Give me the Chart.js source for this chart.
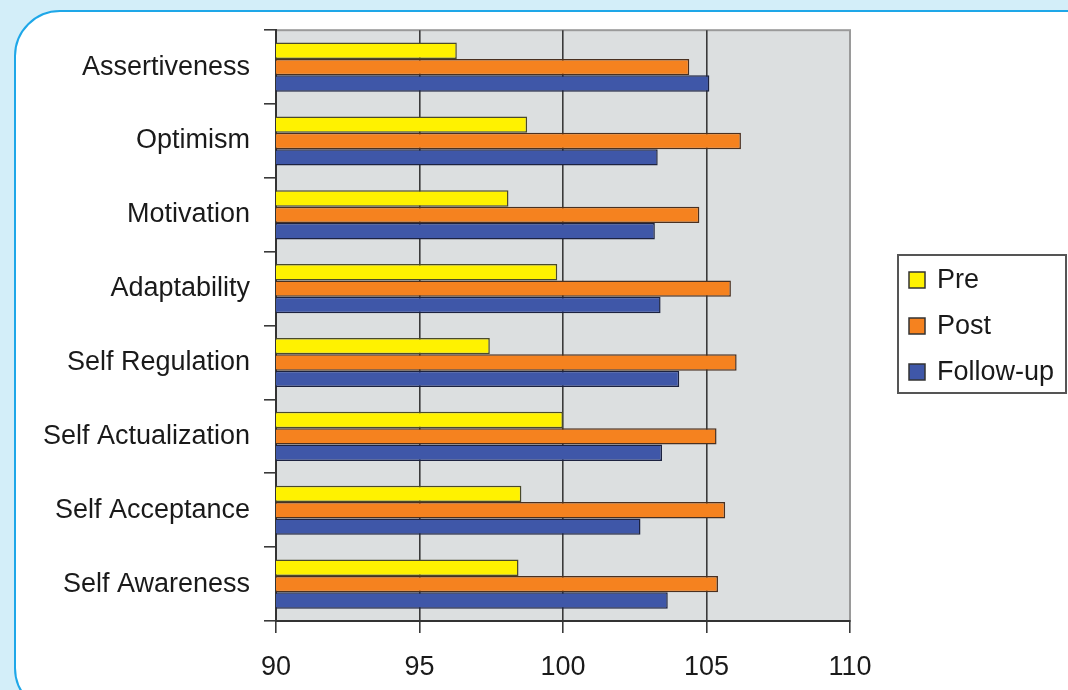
<!DOCTYPE html>
<html>
<head>
<meta charset="utf-8">
<script src="https://cdn.jsdelivr.net/npm/chart.js@4"></script>
<style>
  html, body { margin: 0; padding: 0; background: #d3eef9; overflow: hidden; }
  #panel {
    position: absolute; left: 14px; top: 10px; width: 1100px; height: 700px;
    background: #fff; border: 2px solid #1ea7e8; border-radius: 46px;
  }
  #graph { position: absolute; left: 0; top: 0; }
</style>
</head>
<body>
<div id="panel"></div>
<canvas id="graph" width="1068" height="690"></canvas>
<script>
// data
const categories = ['Assertiveness', 'Optimism', 'Motivation', 'Adaptability',
  'Self Regulation', 'Self Actualization', 'Self Acceptance', 'Self Awareness'];
const preValues = [96.3, 98.75, 98.1, 99.8, 97.45, 100.0, 98.55, 98.45];
const postValues = [104.4, 106.2, 104.75, 105.85, 106.05, 105.35, 105.65, 105.4];
const followValues = [105.1, 103.3, 103.2, 103.4, 104.05, 103.45, 102.7, 103.65];
const seriesNames = ['Pre', 'Post', 'Follow-up'];
const xTicks = [90, 95, 100, 105, 110];

const FONT = "'Liberation Sans', Arial, sans-serif";

window.onload = function () {
  loadChart(document.querySelector("#graph"));
}

//gray plot background + frame
const plotBg = {
  id: 'plotBg',
  beforeDraw(chart) {
    const { ctx, chartArea: a } = chart;
    ctx.save();
    ctx.fillStyle = '#dcdfe0';
    ctx.fillRect(a.left, a.top, a.width, a.height);
    ctx.strokeStyle = '#9a9a9a';
    ctx.lineWidth = 2;
    ctx.strokeRect(a.left, a.top, a.width, a.height);
    ctx.restore();
  }
};

//boxed legend on the right
const boxLegend = {
  id: 'boxLegend',
  afterDraw(chart) {
    const ctx = chart.ctx;
    const x = 898, y = 255, w = 168, h = 138;
    ctx.save();
    ctx.fillStyle = '#fff';
    ctx.fillRect(x, y, w, h);
    ctx.strokeStyle = '#555';
    ctx.lineWidth = 2;
    ctx.strokeRect(x, y, w, h);
    ctx.font = '27px ' + FONT;
    ctx.textBaseline = 'middle';
    chart.data.datasets.forEach((ds, i) => {
      const cy = 280 + i * 46;
      ctx.fillStyle = ds.backgroundColor;
      ctx.fillRect(909, cy - 8, 16, 16);
      ctx.strokeStyle = '#333';
      ctx.lineWidth = 1.5;
      ctx.strokeRect(909, cy - 8, 16, 16);
      ctx.fillStyle = '#1a1a1a';
      ctx.fillText(ds.label, 937, cy + 1);
    });
    ctx.restore();
  }
};

function loadChart(element) {
  const bar = (label, data, color, border) => ({
    label: label,
    data: data,
    backgroundColor: color,
    borderColor: border,
    borderWidth: 1.5,
    borderSkipped: false,
    categoryPercentage: 0.665,
    barPercentage: 1.0
  });

  new Chart(element, {
    type: 'bar',
    data: {
      labels: categories,
      datasets: [
        bar(seriesNames[0], preValues, '#fff200', '#4a4a2a'),
        bar(seriesNames[1], postValues, '#f5821f', '#4a3020'),
        bar(seriesNames[2], followValues, '#3f57a8', '#1c2240')
      ]
    },
    options: {
      indexAxis: 'y',
      responsive: false,
      animation: false,
      devicePixelRatio: 1,
      layout: { padding: { left: 0, top: 26, right: 218, bottom: 0 } },
      plugins: { legend: { display: false }, tooltip: { enabled: false } },
      scales: {
        x: {
          min: 90,
          max: 110,
          afterBuildTicks: (s) => { s.ticks = xTicks.map(v => ({ value: v })); },
          afterFit: (s) => { s.height = 69; },
          border: { color: '#333', width: 2 },
          grid: {
            color: (c) => c.tick && c.tick.value === 110 ? '#9a9a9a' : '#3a3a3a',
            tickColor: '#3a3a3a',
            lineWidth: 1.6,
            tickLength: 12
          },
          ticks: { color: '#1a1a1a', font: { family: FONT, size: 27 }, padding: 18 }
        },
        y: {
          afterFit: (s) => { s.width = 276; },
          border: { color: '#333', width: 2 },
          grid: {
            offset: true,
            drawOnChartArea: false,
            color: '#3a3a3a',
            lineWidth: 1.6,
            tickLength: 12
          },
          ticks: { color: '#1a1a1a', font: { family: FONT, size: 27 }, padding: 14 }
        }
      }
    },
    plugins: [plotBg, boxLegend]
  });
}
</script>
</body>
</html>
